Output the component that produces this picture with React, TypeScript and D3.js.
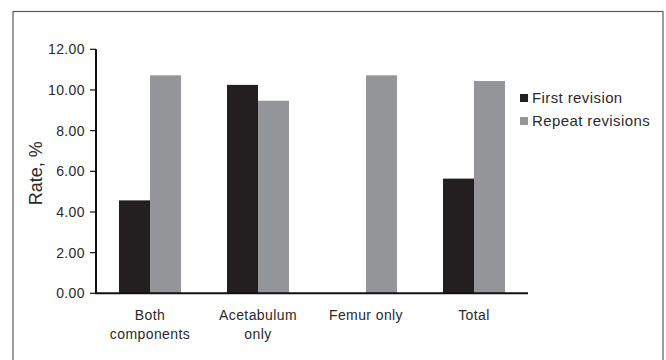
import React from "react";
import * as d3 from "d3";

const categories = [["Both", "components"], ["Acetabulum", "only"], ["Femur only"], ["Total"]];
const categoryKeys = ["Both components", "Acetabulum only", "Femur only", "Total"];
const seriesNames = ["First revision", "Repeat revisions"];
const firstRevision = [4.57, 10.25, 0, 5.64];
const repeatRevisions = [10.72, 9.47, 10.72, 10.44];
const yTicks = [0, 2, 4, 6, 8, 10, 12];
const colors = ["#231f20", "#939598"];

const W = 666;
const H = 360;
const FONT = "'Liberation Sans', Arial, Helvetica, sans-serif";
const TXT = "#2a2a2a";

export default function App() {
  const x0 = d3.scaleBand<string>().domain(categoryKeys).range([96, 528]).paddingInner(0.426).paddingOuter(0.213);
  const x1 = d3.scaleBand<string>().domain(seriesNames).range([0, x0.bandwidth()]);
  const y = d3.scaleLinear().domain([0, 12]).range([293.3, 49.3]);
  const series = [firstRevision, repeatRevisions];

  return (
    <svg width={W} height={H} style={{ position: "absolute", left: 0, top: 0, fontFamily: FONT }}>
      <rect x={0} y={0} width={W} height={H} fill="#fff" />
      <rect x={13} y={11.5} width={650} height={360} fill="none" stroke="#5a5a5a" strokeWidth={1.2} />
      {categoryKeys.map((c, i) =>
        series.map((vals, s) =>
          vals[i] > 0 ? (
            <rect
              key={c + s}
              x={(x0(c) as number) + (x1(seriesNames[s]) as number)}
              y={y(vals[i])}
              width={x1.bandwidth()}
              height={y(0) - y(vals[i])}
              fill={colors[s]}
            />
          ) : null
        )
      )}
      <line x1={96} x2={96} y1={y(12)} y2={y(0)} stroke="#111" strokeWidth={2} />
      {yTicks.map((t) => (
        <g key={t}>
          <line x1={90} x2={96} y1={y(t)} y2={y(t)} stroke="#111" strokeWidth={1.2} />
          <text x={85} y={y(t)} dy="0.35em" textAnchor="end" fontSize={14} letterSpacing={0.4} fill={TXT}>
            {t.toFixed(2)}
          </text>
        </g>
      ))}
      <line x1={95} x2={528} y1={y(0)} y2={y(0)} stroke="#111" strokeWidth={2} />
      {categories.map((lines, i) => (
        <text key={i} x={(x0(categoryKeys[i]) as number) + x0.bandwidth() / 2} y={320} textAnchor="middle" fontSize={14} letterSpacing={0.4} fill={TXT}>
          {lines.map((l, j) => (
            <tspan key={j} x={(x0(categoryKeys[i]) as number) + x0.bandwidth() / 2} dy={j === 0 ? 0 : 19}>
              {l}
            </tspan>
          ))}
        </text>
      ))}
      <text transform={`translate(42,${y(6) + 2}) rotate(-90)`} textAnchor="middle" fontSize={18} fill={TXT}>
        Rate, %
      </text>
      {seriesNames.map((n, s) => (
        <g key={n}>
          <rect x={520} y={94 + s * 23} width={8} height={8} fill={colors[s]} />
          <text x={532} y={103 + s * 23} fontSize={15} letterSpacing={0.4} fill={TXT}>
            {n}
          </text>
        </g>
      ))}
    </svg>
  );
}
